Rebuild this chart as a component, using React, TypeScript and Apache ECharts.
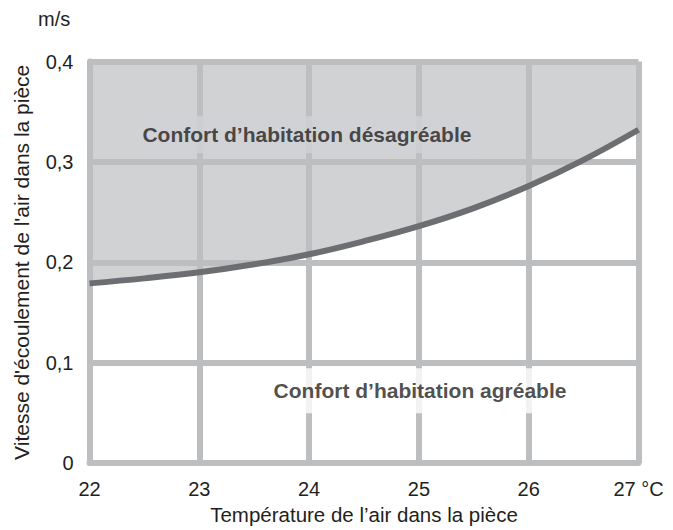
import React, { useEffect, useRef } from "react";
import * as echarts from "echarts";

const temperatures = [22, 22.5, 23, 23.5, 24, 24.5, 25, 25.5, 26, 26.5, 27];
const limitSpeeds = [0.179, 0.184, 0.19, 0.198, 0.208, 0.221, 0.236, 0.254, 0.276, 0.302, 0.332];
const yTicks = [0, 0.1, 0.2, 0.3, 0.4];
const zoneLabels = [
  { name: "Confort d’habitation désagréable", x: 23.98, y: 0.327, bg: "#d1d2d4", pad: [8, 3] },
  { name: "Confort d’habitation agréable", x: 25.01, y: 0.072, bg: "#ffffff", pad: [12, 4] },
];

const FONT = "'Liberation Sans', Arial, Helvetica, sans-serif";
const GRID_COLOR = "#bcbec0";
const FILL_COLOR = "#d1d2d4";
const CURVE_COLOR = "#6d6e71";
const TEXT_COLOR = "#231f20";

export default function App() {
  const ref = useRef<HTMLDivElement>(null);
  useEffect(() => {
    if (!ref.current) return;
    const chart = echarts.init(ref.current, undefined, { renderer: "svg" });
    const curve = temperatures.map((t, i) => [t, limitSpeeds[i]]);
    chart.setOption({
      animation: false,
      textStyle: { fontFamily: FONT },
      grid: { left: 89.5, right: 34.5, top: 61.5, bottom: 64, containLabel: false },
      xAxis: {
        type: "value",
        min: 22,
        max: 27,
        interval: 1,
        z: 3,
        name: "Température de l’air dans la pièce",
        nameLocation: "middle",
        nameGap: 33,
        nameTextStyle: { fontSize: 20.5, color: TEXT_COLOR, fontFamily: FONT },
        axisLine: { show: true, lineStyle: { color: GRID_COLOR, width: 6 } },
        axisTick: { show: false },
        axisLabel: {
          fontSize: 20,
          color: TEXT_COLOR,
          margin: 16,
          fontFamily: FONT,
          formatter: (v: number) => (v === 27 ? "27 °C" : String(v)),
        },
        splitLine: { show: true, lineStyle: { color: GRID_COLOR, width: 6 } },
      },
      yAxis: {
        type: "value",
        min: yTicks[0],
        max: yTicks[yTicks.length - 1],
        interval: 0.1,
        z: 3,
        name: "Vitesse d'écoulement de l'air dans la pièce",
        nameLocation: "middle",
        nameGap: 58,
        nameTextStyle: { fontSize: 21, color: TEXT_COLOR, fontFamily: FONT },
        axisLine: { show: true, lineStyle: { color: GRID_COLOR, width: 6 } },
        axisTick: { show: false },
        axisLabel: {
          fontSize: 20,
          color: TEXT_COLOR,
          margin: 16,
          fontFamily: FONT,
          formatter: (v: number) => (v === 0 ? "0" : v.toFixed(1).replace(".", ",")),
        },
        splitLine: { show: true, lineStyle: { color: GRID_COLOR, width: 6 } },
      },
      graphic: [
        {
          type: "text",
          left: 38,
          top: 9,
          style: { text: "m/s", fontSize: 20, fill: TEXT_COLOR, fontFamily: FONT },
        },
      ],
      series: [
        {
          type: "line",
          z: 1,
          data: curve,
          smooth: 0.4,
          symbol: "none",
          lineStyle: { width: 0, opacity: 0 },
          areaStyle: { origin: "end", color: FILL_COLOR, opacity: 1 },
          silent: true,
        },
        {
          type: "line",
          z: 4,
          data: curve,
          smooth: 0.4,
          symbol: "none",
          lineStyle: { width: 6, color: CURVE_COLOR },
          silent: true,
        },
        {
          type: "scatter",
          z: 5,
          symbolSize: 1,
          itemStyle: { color: "rgba(0,0,0,0)" },
          data: zoneLabels.map((z) => ({
            value: [z.x, z.y],
            name: z.name,
            label: {
              show: true,
              position: "inside",
              formatter: z.name,
              fontSize: 21,
              fontWeight: "bold",
              color: TEXT_COLOR,
              fontFamily: FONT,
              backgroundColor: z.bg,
              padding: z.pad,
            },
          })),
          silent: true,
        },
      ],
    });
    return () => chart.dispose();
  }, []);
  return <div ref={ref} style={{ width: 673, height: 530, position: "absolute", left: 0, top: 0 }} />;
}
